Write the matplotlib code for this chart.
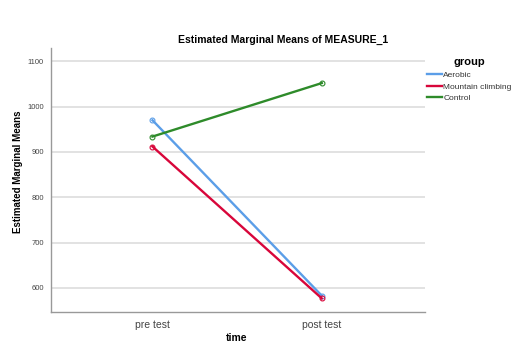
import matplotlib
matplotlib.use("Agg")
import matplotlib.pyplot as plt

plt.rcParams["font.family"] = ["Liberation Sans", "DejaVu Sans"]

# estimated marginal means
times = ["pre test", "post test"]
groups = ["Aerobic", "Mountain climbing", "Control"]
aerobic = [970, 583]
mountain = [912, 577]
control = [934, 1052]
colors = ["#5b9ee8", "#d8063a", "#2e8b2a"]

fig = plt.figure(figsize=(5.14, 3.44), dpi=100)
ax = fig.add_axes([0.099, 0.093, 0.728, 0.767])

x = range(len(times))
for vals, name, c in zip([aerobic, mountain, control], groups, colors):
    ax.plot(x, vals, color=c, lw=1.7, label=name, marker="o", ms=3.5,
            mfc="none", mec=c, mew=0.8)

ax.set_xlim(-0.6, 1.61)
ax.set_ylim(547, 1129)
ax.set_yticks([600, 700, 800, 900, 1000, 1100])
ax.set_xticks(list(x))
ax.set_xticklabels(times)
ax.tick_params(axis="y", length=0, labelsize=5.5, labelcolor="#444444", pad=5)
ax.tick_params(axis="x", length=0, labelsize=7.5, labelcolor="#444444", pad=6)
ax.yaxis.grid(True, color="#dddddd", lw=1.2)
ax.set_axisbelow(True)
for s in ["top", "right"]:
    ax.spines[s].set_visible(False)
for s in ["left", "bottom"]:
    ax.spines[s].set_color("#999999")
    ax.spines[s].set_linewidth(1.0)

ax.set_ylabel("Estimated Marginal Means", fontsize=7, fontweight="bold")
ax.yaxis.set_label_coords(-0.075, 0.53)
fig.text(0.461, 0.003, "time", fontsize=7.5, fontweight="bold", ha="center", va="bottom")
fig.text(0.551, 0.884, "Estimated Marginal Means of MEASURE_1", fontsize=7.5,
         fontweight="bold", ha="center", va="center")

leg = ax.legend(loc="upper left", bbox_to_anchor=(1.005, 0.965), frameon=False,
                fontsize=6, title="group", handlelength=1.8, handletextpad=0.15,
                labelspacing=0.45, borderaxespad=0, borderpad=0)
leg.get_title().set_fontweight("bold")
leg.get_title().set_fontsize(8)
for h in leg.legend_handles:
    h.set_marker("")
for t in leg.get_texts():
    t.set_color("#333333")

fig.savefig("out.png", dpi=100)
